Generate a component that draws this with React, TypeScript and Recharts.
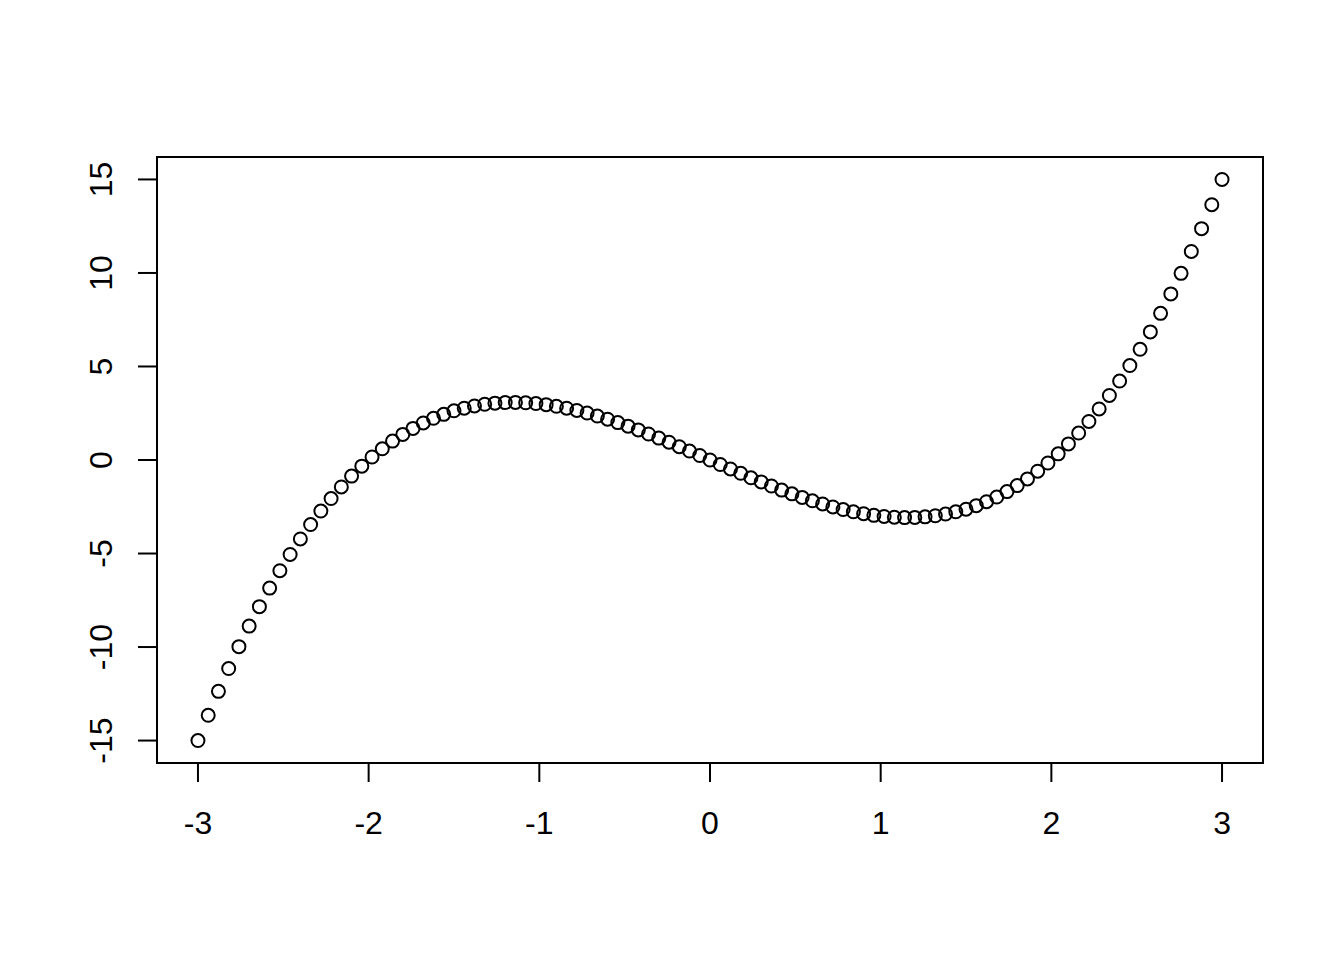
import { ScatterChart, Scatter, XAxis, YAxis, ReferenceArea } from 'recharts';

const X_VALUES = [
  -3.0, -2.94, -2.88, -2.82, -2.76, -2.7, -2.64, -2.58, -2.52, -2.46,
  -2.4, -2.34, -2.28, -2.22, -2.16, -2.1, -2.04, -1.98, -1.92, -1.86,
  -1.8, -1.74, -1.68, -1.62, -1.56, -1.5, -1.44, -1.38, -1.32, -1.26,
  -1.2, -1.14, -1.08, -1.02, -0.96, -0.9, -0.84, -0.78, -0.72, -0.66,
  -0.6, -0.54, -0.48, -0.42, -0.36, -0.3, -0.24, -0.18, -0.12, -0.06,
  0.0,
  0.06, 0.12, 0.18, 0.24, 0.3, 0.36, 0.42, 0.48, 0.54, 0.6,
  0.66, 0.72, 0.78, 0.84, 0.9, 0.96, 1.02, 1.08, 1.14, 1.2,
  1.26, 1.32, 1.38, 1.44, 1.5, 1.56, 1.62, 1.68, 1.74, 1.8,
  1.86, 1.92, 1.98, 2.04, 2.1, 2.16, 2.22, 2.28, 2.34, 2.4,
  2.46, 2.52, 2.58, 2.64, 2.7, 2.76, 2.82, 2.88, 2.94, 3.0,
];

const Y_VALUES = [
  -15.0, -13.65, -12.37, -11.15, -9.98, -8.88, -7.84, -6.85, -5.92, -5.05,
  -4.22, -3.45, -2.73, -2.06, -1.44, -0.86, -0.33, 0.16, 0.6, 1.01,
  1.37, 1.69, 1.98, 2.23, 2.44, 2.63, 2.77, 2.89, 2.98, 3.04,
  3.07, 3.08, 3.06, 3.02, 2.96, 2.87, 2.77, 2.65, 2.51, 2.35,
  2.18, 2.0, 1.81, 1.61, 1.39, 1.17, 0.95, 0.71, 0.48, 0.24,
  0.0,
  -0.24, -0.48, -0.71, -0.95, -1.17, -1.39, -1.61, -1.81, -2.0, -2.18,
  -2.35, -2.51, -2.65, -2.77, -2.87, -2.96, -3.02, -3.06, -3.08, -3.07,
  -3.04, -2.98, -2.89, -2.77, -2.63, -2.44, -2.23, -1.98, -1.69, -1.37,
  -1.01, -0.6, -0.16, 0.33, 0.86, 1.44, 2.06, 2.73, 3.45, 4.22,
  5.05, 5.92, 6.85, 7.84, 8.88, 9.98, 11.15, 12.37, 13.65, 15.0,
];

const X_TICKS = [-3, -2, -1, 0, 1, 2, 3];
const Y_TICKS = [-15, -10, -5, 0, 5, 10, 15];

const FONT = '"Liberation Sans", Arial, sans-serif';

const points = X_VALUES.map((x, i) => ({ x, y: Y_VALUES[i] }));

function XTick({ x, payload }: { x?: number; payload?: { value: number } }) {
  return (
    <text x={x} y={834} textAnchor="middle" fontSize={32} fontFamily={FONT} fill="#000">
      {payload?.value}
    </text>
  );
}

function YTick({ y, payload }: { y?: number; payload?: { value: number } }) {
  return (
    <text
      x={112}
      y={y}
      transform={`rotate(-90, 112, ${y})`}
      textAnchor="middle"
      fontSize={32}
      fontFamily={FONT}
      fill="#000"
    >
      {payload?.value}
    </text>
  );
}

function OpenCircle({ cx, cy }: { cx?: number; cy?: number }) {
  return <circle cx={cx} cy={cy} r={6.5} fill="none" stroke="#000" strokeWidth={2} />;
}

export default function App() {
  return (
    <div style={{ position: 'absolute', left: 0, top: 0, background: '#fff' }}>
      <ScatterChart
        width={1344}
        height={960}
        margin={{ top: 157, right: 81, left: 97, bottom: 137 }}
      >
        <XAxis
          type="number"
          dataKey="x"
          domain={[-3.24, 3.24]}
          ticks={X_TICKS}
          allowDataOverflow
          axisLine={false}
          tickSize={19}
          tickLine={{ stroke: '#000', strokeWidth: 2 }}
          tick={<XTick />}
          height={60}
        />
        <YAxis
          type="number"
          dataKey="y"
          domain={[-16.2, 16.2]}
          ticks={Y_TICKS}
          allowDataOverflow
          axisLine={false}
          tickSize={19}
          tickLine={{ stroke: '#000', strokeWidth: 2 }}
          tick={<YTick />}
          width={60}
        />
        <ReferenceArea
          x1={-3.24}
          x2={3.24}
          y1={-16.2}
          y2={16.2}
          fill="none"
          fillOpacity={0}
          stroke="#000"
          strokeWidth={2}
          ifOverflow="visible"
        />
        <Scatter data={points} shape={<OpenCircle />} isAnimationActive={false} />
      </ScatterChart>
    </div>
  );
}
